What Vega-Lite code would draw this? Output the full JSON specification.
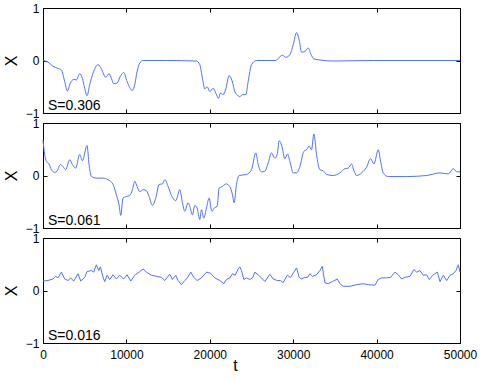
{
"$schema":"https://vega.github.io/schema/vega-lite/v6.json",
"padding":{"left":2,"top":1,"right":5,"bottom":5},
"spacing":10,
"bounds":"flush",
"background":"white",
"datasets":{
"p1":[{"t":0,"X":0},{"t":600,"X":-0.03},{"t":1200,"X":-0.11},{"t":1800,"X":-0.15},{"t":2200,"X":-0.18},{"t":2600,"X":-0.4},{"t":2920,"X":-0.58},{"t":3280,"X":-0.43},{"t":3680,"X":-0.36},{"t":4000,"X":-0.37},{"t":4400,"X":-0.25},{"t":4720,"X":-0.34},{"t":5000,"X":-0.53},{"t":5280,"X":-0.67},{"t":5600,"X":-0.46},{"t":6000,"X":-0.24},{"t":6600,"X":-0.08},{"t":7000,"X":-0.16},{"t":7520,"X":-0.32},{"t":7920,"X":-0.25},{"t":8200,"X":-0.34},{"t":8480,"X":-0.44},{"t":8880,"X":-0.43},{"t":9280,"X":-0.3},{"t":9680,"X":-0.23},{"t":10080,"X":-0.4},{"t":10720,"X":-0.57},{"t":11000,"X":-0.46},{"t":11280,"X":-0.21},{"t":11600,"X":-0.05},{"t":12000,"X":0},{"t":14800,"X":0},{"t":18400,"X":-0.01},{"t":18800,"X":-0.08},{"t":19120,"X":-0.34},{"t":19400,"X":-0.54},{"t":19680,"X":-0.5},{"t":20000,"X":-0.59},{"t":20400,"X":-0.53},{"t":20720,"X":-0.62},{"t":21040,"X":-0.72},{"t":21280,"X":-0.62},{"t":21600,"X":-0.65},{"t":21920,"X":-0.54},{"t":22320,"X":-0.29},{"t":22680,"X":-0.39},{"t":23000,"X":-0.59},{"t":23400,"X":-0.67},{"t":23600,"X":-0.69},{"t":23920,"X":-0.65},{"t":24320,"X":-0.65},{"t":24600,"X":-0.4},{"t":25000,"X":-0.08},{"t":25600,"X":0},{"t":27920,"X":0},{"t":28320,"X":0.06},{"t":28720,"X":0.1},{"t":29120,"X":0.06},{"t":29600,"X":0.11},{"t":30000,"X":0.3},{"t":30400,"X":0.53},{"t":30720,"X":0.39},{"t":31000,"X":0.16},{"t":31400,"X":0.17},{"t":31800,"X":0.24},{"t":32120,"X":0.12},{"t":32480,"X":0.03},{"t":33200,"X":0.01},{"t":34800,"X":-0.01},{"t":39600,"X":0},{"t":50000,"X":0}],
"p2":[{"t":0,"X":0.68},{"t":200,"X":0.4},{"t":400,"X":0.27},{"t":720,"X":0.22},{"t":1000,"X":0.11},{"t":1400,"X":0.06},{"t":1680,"X":0.08},{"t":2080,"X":0.21},{"t":2400,"X":0.17},{"t":2720,"X":0.11},{"t":3200,"X":0.3},{"t":3520,"X":0.21},{"t":3920,"X":0.14},{"t":4400,"X":0.4},{"t":4720,"X":0.28},{"t":5280,"X":0.57},{"t":5520,"X":0.21},{"t":5800,"X":-0.02},{"t":6400,"X":-0.05},{"t":7200,"X":-0.05},{"t":7800,"X":-0.08},{"t":8400,"X":-0.17},{"t":8800,"X":-0.37},{"t":9120,"X":-0.56},{"t":9320,"X":-0.76},{"t":9600,"X":-0.43},{"t":10000,"X":-0.4},{"t":10400,"X":-0.38},{"t":10720,"X":-0.27},{"t":11000,"X":-0.11},{"t":11280,"X":-0.21},{"t":11600,"X":-0.31},{"t":12000,"X":-0.27},{"t":12400,"X":-0.29},{"t":12720,"X":-0.4},{"t":13120,"X":-0.57},{"t":13520,"X":-0.43},{"t":13920,"X":-0.17},{"t":14320,"X":-0.16},{"t":14600,"X":-0.08},{"t":15000,"X":-0.21},{"t":15400,"X":-0.38},{"t":15920,"X":-0.48},{"t":16400,"X":-0.27},{"t":16720,"X":-0.52},{"t":17000,"X":-0.68},{"t":17400,"X":-0.52},{"t":17600,"X":-0.59},{"t":17920,"X":-0.75},{"t":18200,"X":-0.57},{"t":18480,"X":-0.62},{"t":18800,"X":-0.84},{"t":19000,"X":-0.65},{"t":19280,"X":-0.81},{"t":19600,"X":-0.62},{"t":19920,"X":-0.43},{"t":20240,"X":-0.68},{"t":20600,"X":-0.61},{"t":20880,"X":-0.59},{"t":21120,"X":-0.24},{"t":21520,"X":-0.21},{"t":21920,"X":-0.16},{"t":22400,"X":-0.21},{"t":22720,"X":-0.37},{"t":22920,"X":-0.52},{"t":23200,"X":-0.17},{"t":23520,"X":0},{"t":24400,"X":0.02},{"t":25000,"X":0.11},{"t":25520,"X":0.43},{"t":25800,"X":0.21},{"t":26200,"X":0.07},{"t":26600,"X":0.08},{"t":27000,"X":0.24},{"t":27400,"X":0.43},{"t":27800,"X":0.33},{"t":28080,"X":0.4},{"t":28320,"X":0.66},{"t":28640,"X":0.56},{"t":29000,"X":0.32},{"t":29320,"X":0.41},{"t":29600,"X":0.27},{"t":30000,"X":0.05},{"t":30400,"X":0.05},{"t":30800,"X":0.17},{"t":31280,"X":0.46},{"t":31600,"X":0.49},{"t":31920,"X":0.56},{"t":32200,"X":0.49},{"t":32480,"X":0.79},{"t":32800,"X":0.4},{"t":33200,"X":0.11},{"t":33600,"X":0.09},{"t":34000,"X":0.02},{"t":34800,"X":0},{"t":35600,"X":0.05},{"t":36200,"X":0.13},{"t":36600,"X":0.14},{"t":37000,"X":0.22},{"t":37280,"X":0.09},{"t":37600,"X":0},{"t":38200,"X":0.05},{"t":38800,"X":0.16},{"t":39280,"X":0.32},{"t":39680,"X":0.22},{"t":40200,"X":0.49},{"t":40480,"X":0.27},{"t":40800,"X":0.05},{"t":41400,"X":-0.02},{"t":43600,"X":-0.02},{"t":46000,"X":0},{"t":47600,"X":0.05},{"t":48600,"X":0.03},{"t":49200,"X":0.13},{"t":49600,"X":0.07},{"t":50000,"X":0.07}],
"p3":[{"t":0,"X":0.18},{"t":600,"X":0.19},{"t":1200,"X":0.22},{"t":1520,"X":0.27},{"t":1800,"X":0.24},{"t":2200,"X":0.35},{"t":2600,"X":0.22},{"t":3000,"X":0.19},{"t":3320,"X":0.24},{"t":3680,"X":0.18},{"t":4200,"X":0.32},{"t":4520,"X":0.18},{"t":5000,"X":0.25},{"t":5280,"X":0.36},{"t":5800,"X":0.38},{"t":6080,"X":0.35},{"t":6400,"X":0.49},{"t":6680,"X":0.38},{"t":6880,"X":0.45},{"t":7200,"X":0.25},{"t":7400,"X":0.17},{"t":7680,"X":0.29},{"t":8000,"X":0.21},{"t":8400,"X":0.3},{"t":8800,"X":0.22},{"t":9200,"X":0.29},{"t":9680,"X":0.22},{"t":10080,"X":0.3},{"t":10520,"X":0.18},{"t":11000,"X":0.29},{"t":11520,"X":0.35},{"t":12000,"X":0.41},{"t":12400,"X":0.35},{"t":13000,"X":0.29},{"t":13600,"X":0.27},{"t":14200,"X":0.25},{"t":14600,"X":0.19},{"t":15200,"X":0.31},{"t":15520,"X":0.21},{"t":15920,"X":0.29},{"t":16200,"X":0.19},{"t":16600,"X":0.11},{"t":17000,"X":0.19},{"t":17320,"X":0.24},{"t":17720,"X":0.35},{"t":18080,"X":0.25},{"t":18480,"X":0.19},{"t":19000,"X":0.24},{"t":19600,"X":0.35},{"t":20080,"X":0.33},{"t":20600,"X":0.24},{"t":21200,"X":0.19},{"t":21680,"X":0.13},{"t":22000,"X":0.21},{"t":22400,"X":0.24},{"t":22720,"X":0.32},{"t":23040,"X":0.29},{"t":23400,"X":0.41},{"t":23600,"X":0.45},{"t":23800,"X":0.38},{"t":24080,"X":0.21},{"t":24400,"X":0.24},{"t":24800,"X":0.21},{"t":25120,"X":0.24},{"t":25400,"X":0.35},{"t":25800,"X":0.3},{"t":26200,"X":0.24},{"t":26600,"X":0.17},{"t":27200,"X":0.31},{"t":27600,"X":0.22},{"t":28080,"X":0.19},{"t":28480,"X":0.19},{"t":28800,"X":0.15},{"t":29280,"X":0.29},{"t":29680,"X":0.25},{"t":30080,"X":0.35},{"t":30400,"X":0.43},{"t":30720,"X":0.25},{"t":31000,"X":0.22},{"t":31400,"X":0.25},{"t":31720,"X":0.25},{"t":32000,"X":0.32},{"t":32320,"X":0.27},{"t":32800,"X":0.3},{"t":33200,"X":0.38},{"t":33480,"X":0.46},{"t":33800,"X":0.15},{"t":34200,"X":0.13},{"t":34720,"X":0.17},{"t":35280,"X":0.22},{"t":35600,"X":0.13},{"t":36000,"X":0.08},{"t":36800,"X":0.08},{"t":37600,"X":0.11},{"t":38400,"X":0.13},{"t":39000,"X":0.11},{"t":39800,"X":0.1},{"t":40200,"X":0.21},{"t":40600,"X":0.24},{"t":41200,"X":0.24},{"t":41680,"X":0.25},{"t":42200,"X":0.35},{"t":42600,"X":0.3},{"t":43000,"X":0.22},{"t":43400,"X":0.25},{"t":44000,"X":0.27},{"t":44480,"X":0.4},{"t":44800,"X":0.35},{"t":45200,"X":0.38},{"t":45600,"X":0.29},{"t":46000,"X":0.3},{"t":46320,"X":0.21},{"t":46720,"X":0.29},{"t":47280,"X":0.35},{"t":47600,"X":0.17},{"t":48000,"X":0.29},{"t":48400,"X":0.19},{"t":48800,"X":0.29},{"t":49200,"X":0.32},{"t":49520,"X":0.38},{"t":49800,"X":0.49},{"t":50000,"X":0.35}]
},
"vconcat":[
{"width":417,"height":105,
 "layer":[
  {"data":{"name":"p1"},"mark":{"type":"line","color":"#5070ff","strokeWidth":1,"interpolate":"monotone"},
   "encoding":{"x":{"field":"t","type":"quantitative","scale":{"domain":[0,50000],"nice":false},"axis":{"orient":"bottom","values":[0,10000,20000,30000,40000,50000],"labels":false,"title":null,"tickSize":-4}},
               "y":{"field":"X","type":"quantitative","scale":{"domain":[-1,1],"nice":false},"axis":{"orient":"left","values":[-1,0,1],"format":".0f","title":"X","tickSize":-4,"labelPadding":8}}}},
  {"data":{"values":[{"S":"S=0.306"}]},"mark":{"type":"text","align":"left","baseline":"bottom","fontSize":14,"dy":0,"color":"black"},
   "encoding":{"text":{"field":"S"},"x":{"datum":600,"type":"quantitative","axis":null},"y":{"datum":-1,"type":"quantitative","axis":null}}},
  {"data":{"name":"p1"},"mark":{"type":"line","strokeOpacity":0},
   "encoding":{"x":{"field":"t","type":"quantitative","axis":{"orient":"top","values":[0,10000,20000,30000,40000,50000],"labels":false,"title":null,"domain":false,"tickSize":-4}},
               "y":{"field":"X","type":"quantitative","axis":{"orient":"right","values":[-1,0,1],"labels":false,"title":null,"domain":false,"tickSize":-4}}}}
 ]},
{"width":417,"height":105,
 "layer":[
  {"data":{"name":"p2"},"mark":{"type":"line","color":"#5070ff","strokeWidth":1,"interpolate":"monotone"},
   "encoding":{"x":{"field":"t","type":"quantitative","scale":{"domain":[0,50000],"nice":false},"axis":{"orient":"bottom","values":[0,10000,20000,30000,40000,50000],"labels":false,"title":null,"tickSize":-4}},
               "y":{"field":"X","type":"quantitative","scale":{"domain":[-1,1],"nice":false},"axis":{"orient":"left","values":[-1,0,1],"format":".0f","title":"X","tickSize":-4,"labelPadding":8}}}},
  {"data":{"values":[{"S":"S=0.061"}]},"mark":{"type":"text","align":"left","baseline":"bottom","fontSize":14,"dy":0,"color":"black"},
   "encoding":{"text":{"field":"S"},"x":{"datum":600,"type":"quantitative","axis":null},"y":{"datum":-1,"type":"quantitative","axis":null}}},
  {"data":{"name":"p2"},"mark":{"type":"line","strokeOpacity":0},
   "encoding":{"x":{"field":"t","type":"quantitative","axis":{"orient":"top","values":[0,10000,20000,30000,40000,50000],"labels":false,"title":null,"domain":false,"tickSize":-4}},
               "y":{"field":"X","type":"quantitative","axis":{"orient":"right","values":[-1,0,1],"labels":false,"title":null,"domain":false,"tickSize":-4}}}}
 ]},
{"width":417,"height":105,
 "layer":[
  {"data":{"name":"p3"},"mark":{"type":"line","color":"#5070ff","strokeWidth":1},
   "encoding":{"x":{"field":"t","type":"quantitative","scale":{"domain":[0,50000],"nice":false},"axis":{"orient":"bottom","values":[0,10000,20000,30000,40000,50000],"format":"d","title":"t","titleX":192,"tickSize":-4,"labelPadding":10,"titlePadding":-3}},
               "y":{"field":"X","type":"quantitative","scale":{"domain":[-1,1],"nice":false},"axis":{"orient":"left","values":[-1,0,1],"format":".0f","title":"X","tickSize":-4,"labelPadding":8}}}},
  {"data":{"values":[{"S":"S=0.016"}]},"mark":{"type":"text","align":"left","baseline":"bottom","fontSize":14,"dy":0,"color":"black"},
   "encoding":{"text":{"field":"S"},"x":{"datum":600,"type":"quantitative","axis":null},"y":{"datum":-1,"type":"quantitative","axis":null}}},
  {"data":{"name":"p3"},"mark":{"type":"line","strokeOpacity":0},
   "encoding":{"x":{"field":"t","type":"quantitative","axis":{"orient":"top","values":[0,10000,20000,30000,40000,50000],"labels":false,"title":null,"domain":false,"tickSize":-4}},
               "y":{"field":"X","type":"quantitative","axis":{"orient":"right","values":[-1,0,1],"labels":false,"title":null,"domain":false,"tickSize":-4}}}}
 ]}
],
"config":{
 "font":"Liberation Sans",
 "view":{"stroke":"black","strokeWidth":1},
 "text":{"font":"Liberation Sans"},
 "axis":{"grid":false,"domainColor":"black","tickColor":"black","labelColor":"black","titleColor":"black","labelFont":"Liberation Sans","titleFont":"Liberation Sans","labelFontSize":12,"titleFontSize":16,"titleFontWeight":"normal","labelFlush":false,"labelOverlap":false,"labelBound":false,"titlePadding":6,"minExtent":0}
}
}
